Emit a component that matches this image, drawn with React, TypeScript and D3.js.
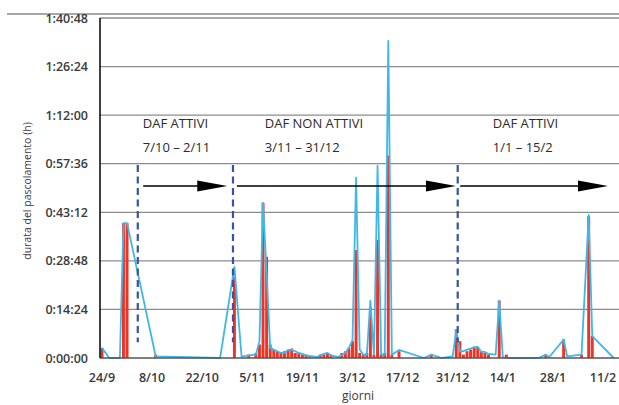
import React from "react";
import * as d3 from "d3";

// days since 24/9
const days = [0, 2, 5, 6, 7, 15, 33, 37, 39, 41, 43, 44, 45, 46, 47, 48, 49, 50, 51, 52, 53, 54, 55, 56, 57, 58, 60, 61, 62, 63, 64, 66, 67, 68, 69, 70, 71, 72, 73, 74, 75, 76, 77, 78, 79, 80, 81, 83, 90, 92, 95, 98, 99, 100, 101, 102, 103, 104, 105, 106, 107, 108, 110, 111, 112, 113, 122, 124, 125, 129, 130, 134, 136, 137, 143];
// blue line: grazing duration (minutes)
const lineMinutes = [3, 0, 0, 40, 40, 0.5, 0, 27, 0.4, 0.8, 1, 5, 46, 25, 3, 2.5, 2, 1.5, 1.5, 2.4, 2.4, 2, 1.5, 1.2, 0.8, 0.6, 0.3, 0.8, 1.2, 1.5, 0.8, 0.3, 1, 1.5, 3, 5.3, 53.5, 2.5, 1, 1, 17, 1, 57, 1, 1, 94, 1, 2.4, 0, 1, 0, 0.5, 8.3, 2, 2, 2.5, 2.8, 3.2, 3.3, 1.8, 1.8, 1.2, 1, 17, 0.3, 0, 0, 1, 0.3, 5.5, 0.5, 1, 42.4, 6.5, 0];
// red bars (minutes)
const barMinutes = [3, 0, 0, 40, 40, 1, 0, 24, 0, 1, 1.5, 4, 46, 30, 4, 2.5, 2, 1.5, 2, 2.4, 2.8, 1.5, 1.5, 1, 1, 0.5, 0.5, 1, 1, 1.5, 1, 0.5, 1.5, 2, 3, 5, 32, 1.5, 1, 1.5, 15, 1, 35, 1, 1.5, 60, 1, 2, 0, 1.2, 0, 0, 8.5, 5, 1, 2, 2.5, 3, 3, 2, 1.5, 1, 0, 17, 0, 1, 0, 1, 0, 5.5, 0, 1, 42, 6.5, 0];

const yTickMinutes = [0, 14.4, 28.8, 43.2, 57.6, 72, 86.4, 100.8];
const yTickLabels = ["0:00:00", "0:14:24", "0:28:48", "0:43:12", "0:57:36", "1:12:00", "1:26:24", "1:40:48"];
const xTickDays = [0, 14, 28, 42, 56, 70, 84, 98, 112, 126, 140];
const xTickLabels = ["24/9", "8/10", "22/10", "5/11", "19/11", "3/12", "17/12", "31/12", "14/1", "28/1", "11/2"];

// period annotations
const dividerDays = [10, 36.6, 99.4];
const periodTitles = ["DAF ATTIVI", "DAF NON ATTIVI", "DAF ATTIVI"];
const periodRanges = ["7/10 \u2013 2/11", "3/11 \u2013 31/12", "1/1 \u2013 15/2"];
const periodTextDays = [11.4, 45.5, 109.2];
const arrowStartDays = [11.5, 37.7, 100.1];
const arrowEndDays = [35, 98.9, 141.4];

const FONT = "'Open Sans', 'DejaVu Sans', sans-serif";

export default function App() {
  const x = d3.scaleLinear().domain([0, 140]).range([102, 603]);
  const y = d3.scaleLinear().domain([0, 100.8]).range([358, 18]);
  const plotLeft = 100;
  const plotRight = 619;

  const line = d3
    .line<number>()
    .x((_, i) => x(days[i]))
    .y((v) => y(v));

  const barW = (x(1) - x(0)) * 0.82;
  const arrowY = y(51);
  const headLen = 30;
  const headHalf = 5.5;

  return (
    <svg width={619} height={405} style={{ position: "absolute", left: 0, top: 0, background: "#fff" }}>
      {/* top border line */}
      <line x1={7} x2={619} y1={14} y2={14} stroke="#8a8a8a" strokeWidth={1.5} />

      {/* gridlines */}
      {yTickMinutes.map((m, i) =>
        i === 0 ? null : (
          <line key={"g" + i} x1={plotLeft} x2={plotRight} y1={y(m)} y2={y(m)} stroke="#8c8c8c" strokeWidth={1.3} />
        )
      )}

      {/* y tick labels */}
      {yTickMinutes.map((m, i) => (
        <text
          key={"yt" + i}
          x={88}
          y={y(m) + 4.5}
          textAnchor="end"
          fontFamily={FONT}
          fontSize={12.5}
          fontWeight={600}
          fill="#3a3a3a"
        >
          {yTickLabels[i]}
        </text>
      ))}

      {/* x tick labels */}
      {xTickDays.map((d, i) => (
        <text
          key={"xt" + i}
          x={x(d)}
          y={382}
          textAnchor="middle"
          fontFamily={FONT}
          fontSize={12.5}
          fontWeight={600}
          fill="#3a3a3a"
        >
          {xTickLabels[i]}
        </text>
      ))}

      {/* axis titles */}
      <text x={358} y={400} textAnchor="middle" fontFamily={FONT} fontSize={12} fill="#3a3a3a">
        giorni
      </text>
      <text
        transform={`translate(31, ${(y(0) + y(100.8)) / 2 + 3}) rotate(-90)`}
        textAnchor="middle"
        fontFamily={FONT}
        fontSize={10.5}
        fill="#3a3a3a"
      >
        durata del pascolamento (h)
      </text>

      {/* red bars */}
      {days.map((d, i) =>
        barMinutes[i] > 0 ? (
          <rect
            key={"b" + i}
            x={x(d) - barW / 2}
            y={y(barMinutes[i])}
            width={barW}
            height={y(0) - y(barMinutes[i])}
            fill="#ee3326"
          />
        ) : null
      )}

      {/* blue line */}
      <path d={line(lineMinutes) || ""} fill="none" stroke="#3fb8e8" strokeWidth={1.8} strokeLinejoin="round" />

      {/* axes */}
      <line x1={plotLeft} x2={plotRight} y1={y(0)} y2={y(0)} stroke="#555" strokeWidth={1.5} />
      <line x1={plotLeft} x2={plotLeft} y1={y(100.8)} y2={y(0)} stroke="#111" strokeWidth={1.6} />

      {/* period dividers */}
      {dividerDays.map((d, i) => (
        <line
          key={"dv" + i}
          x1={x(d)}
          x2={x(d)}
          y1={y(57.2)}
          y2={y(4.7)}
          stroke="#3553a8"
          strokeWidth={2.2}
          strokeDasharray="7 4.5"
        />
      ))}

      {/* arrows */}
      {arrowStartDays.map((d, i) => {
        const x0 = x(d);
        const x1 = x(arrowEndDays[i]);
        return (
          <g key={"ar" + i}>
            <line x1={x0} x2={x1 - headLen + 2} y1={arrowY} y2={arrowY} stroke="#000" strokeWidth={1.6} />
            <path
              d={`M${x1},${arrowY} L${x1 - headLen},${arrowY - headHalf} L${x1 - headLen},${arrowY + headHalf} Z`}
              fill="#000"
            />
          </g>
        );
      })}

      {/* period texts */}
      {periodTextDays.map((d, i) => (
        <g key={"pt" + i}>
          <text x={x(d)} y={y(68.2)} fontFamily={FONT} fontSize={13} fill="#2b2b2b">
            {periodTitles[i]}
          </text>
          <text x={x(d)} y={y(61)} fontFamily={FONT} fontSize={13} fill="#2b2b2b">
            {periodRanges[i]}
          </text>
        </g>
      ))}
    </svg>
  );
}
